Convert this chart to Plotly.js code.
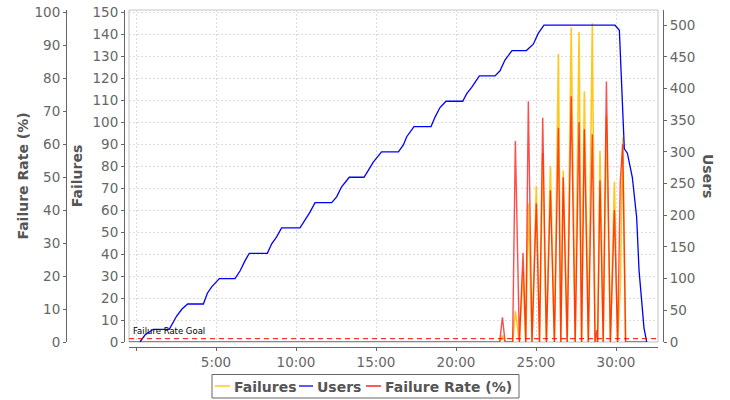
<!DOCTYPE html>
<html>
<head>
<meta charset="utf-8">
<script src="https://cdn.plot.ly/plotly-3.0.1.min.js"></script>
<style>html,body{margin:0;padding:0;background:#fff;}#chart{width:730px;height:400px;}</style>
</head>
<body>
<div id="chart"></div>
<script>
// ---- data (time in minutes) ----
const userTimes = [0.25,0.56,0.9,1.08,2.08,2.33,2.54,2.875,3.06,3.23,4.21,4.46,4.73,5.04,5.21,6.19,6.5,6.81,7.08,8.21,8.48,8.79,9.1,10.25,10.56,10.875,11.19,12.23,12.54,12.85,13.33,14.25,14.52,14.83,15.35,16.4,16.71,16.92,17.375,18.44,18.69,19.0,19.375,20.42,20.67,20.98,21.46,22.44,22.75,23.06,23.5,24.4,24.83,25.14,25.5,29.94,30.21,30.35,30.52,30.71,31.02,31.29,31.44,31.6,31.75,31.92];
const users     = [0,11,17,20,20,32,41,52,57,60,60,77,87,95,100,100,112,128,140,140,155,166,180,180,192,205,220,220,229,245,260,260,271,284,300,300,311,324,340,340,355,370,380,380,392,402,420,420,428,445,460,460,470,487,500,500,492,418,305,298,260,197,113,66,22,0];

const failTimes   = [-0.44,22.73,22.90,23.07,23.54,23.71,23.96,24.19,24.36,24.52,24.75,25.02,25.22,25.42,25.65,25.90,26.15,26.40,26.55,26.70,26.95,27.20,27.45,27.69,27.85,28.02,28.27,28.52,28.69,28.80,28.85,29.00,29.20,29.40,29.65,29.90,30.10,30.27,30.42,30.60,31.92];
const failures    = [0,0,3,0,0,14,0,32,0,63,0,71,0,86,0,80,0,131,0,78,0,143,0,141,0,114,0,145,0,0,0,87,0,103,0,73,0,25,93,0,0];
const failureRate = [0,0,7.5,0,0,61,0,27,0,73,0,42,0,68,0,46,0,65,0,50,0,74.5,0,66.7,0,64.5,0,63,0,3.6,0,49,0,79,0,40,0,49,60,0,0];

const goalRate = 1;
const goalLabel = "Failure Rate Goal";
const tickMinutes = [0,5,10,15,20,25,30];
const tickLabels  = ["","5:00","10:00","15:00","20:00","25:00","30:00"];
const failureTicks = [0,10,20,30,40,50,60,70,80,90,100,110,120,130,140,150];
const rateTicks = [0,10,20,30,40,50,60,70,80,90,100];
const userTicks = [0,50,100,150,200,250,300,350,400,450,500];
const seriesNames = ["Failures","Users","Failure Rate (%)"];
const seriesColors = ["#ffc000","#0000ff","#ff0000"];

// ---- chart ----
const FONT = "DejaVu Sans";
const tickFont = {family: FONT, size: 13.5, color: "#666"};
const titleFont = {family: FONT, size: 14, color: "#555", weight: "bold"};

// pixel helpers for paper coordinates (paper spans x 66..663, y 10..347)
const px = v => (v - 66) / 597;
const py = v => (347 - v) / 337;

const traces = [
  {x: failTimes, y: failureRate, name: seriesNames[2], type: "scatter", mode: "lines",
   yaxis: "y2", line: {color: "rgba(255,0,0,0.7)", width: 1.4}},
  {x: failTimes, y: failures, name: seriesNames[0], type: "scatter", mode: "lines",
   yaxis: "y", line: {color: "rgba(255,192,0,0.88)", width: 1.6}},
  {x: userTimes, y: users, name: seriesNames[1], type: "scatter", mode: "lines",
   yaxis: "y3", line: {color: "#0000ff", width: 1.3}}
];

const axisCommon = {showline: true, linecolor: "#666", linewidth: 1, ticks: "outside",
  ticklen: 3, tickcolor: "#666", tickfont: tickFont, zeroline: false, fixedrange: true};

// manual legend (box, line samples, labels)
const legendLines = [[215,230],[299,313],[366,381]];
const legendTextX = [232,315,383];
const legendShapes = [
  {type: "rect", xref: "paper", yref: "paper", x0: px(212), x1: px(519), y0: py(398), y1: py(374.5),
   line: {color: "#666", width: 1}, fillcolor: "#fff", layer: "above"}
].concat(legendLines.map((l, i) => ({type: "line", xref: "paper", yref: "paper",
   x0: px(l[0]), x1: px(l[1]), y0: py(386), y1: py(386), line: {color: seriesColors[i], width: 1.3}})));
const legendAnn = seriesNames.map((n, i) => ({text: n, xref: "paper", yref: "paper",
   x: px(legendTextX[i]), y: py(386.5), xanchor: "left", yanchor: "middle", showarrow: false,
   font: {family: FONT, size: 14, color: "#555", weight: "bold"}}));

const layout = {
  width: 730, height: 400,
  margin: {l: 66, r: 67, t: 10, b: 53, pad: 0, autoexpand: false},
  paper_bgcolor: "#fff", plot_bgcolor: "#fff",
  showlegend: false,
  xaxis: Object.assign({}, axisCommon, {
    domain: [63/597, 592/597], range: [-0.4375, 32.625],
    anchor: "free", position: 0,
    tickmode: "array", tickvals: tickMinutes, ticktext: tickLabels,
    showgrid: true, gridcolor: "#dcdcdc", griddash: "2px,2px", gridwidth: 1}),
  yaxis: Object.assign({}, axisCommon, {
    domain: [5/337, 1], range: [0, 151], anchor: "free", position: 58/597, side: "left",
    tickmode: "array", tickvals: failureTicks,
    showgrid: true, gridcolor: "#dcdcdc", griddash: "2px,2px", gridwidth: 1,
    title: {text: "Failures", font: titleFont, standoff: 5}}),
  yaxis2: Object.assign({}, axisCommon, {
    domain: [5/337, 1], range: [0, 100.7], anchor: "free", position: 0, side: "left",
    overlaying: "y", tickmode: "array", tickvals: rateTicks, showgrid: false,
    title: {text: "Failure Rate (%)", font: titleFont, standoff: 1}}),
  yaxis3: Object.assign({}, axisCommon, {
    domain: [5/337, 1], range: [0, 524], anchor: "free", position: 1, side: "right",
    overlaying: "y", tickmode: "array", tickvals: userTicks, showgrid: false}),
  shapes: [
    {type: "rect", xref: "x domain", yref: "y domain", x0: 0, x1: 1, y0: 0, y1: 1,
     line: {color: "#c0c0c0", width: 1}, layer: "below"},
    {type: "line", xref: "x domain", yref: "y2", x0: 0, x1: 1, y0: goalRate, y1: goalRate,
     line: {color: "#ff0000", width: 1, dash: "5px,4px"}, layer: "above"}
  ].concat(legendShapes),
  annotations: [
    {text: goalLabel, xref: "x domain", yref: "y2", x: 0.004, y: goalRate, xanchor: "left", yanchor: "bottom",
     yshift: 1, showarrow: false, font: {family: FONT, size: 8.5, color: "#000"}},
    {text: "Users", xref: "paper", yref: "paper", x: px(708), y: py(176),
     xanchor: "center", yanchor: "middle", textangle: 90, showarrow: false, font: titleFont}
  ].concat(legendAnn)
};

Plotly.newPlot("chart", traces, layout, {displayModeBar: false, staticPlot: true});
</script>
</body>
</html>
